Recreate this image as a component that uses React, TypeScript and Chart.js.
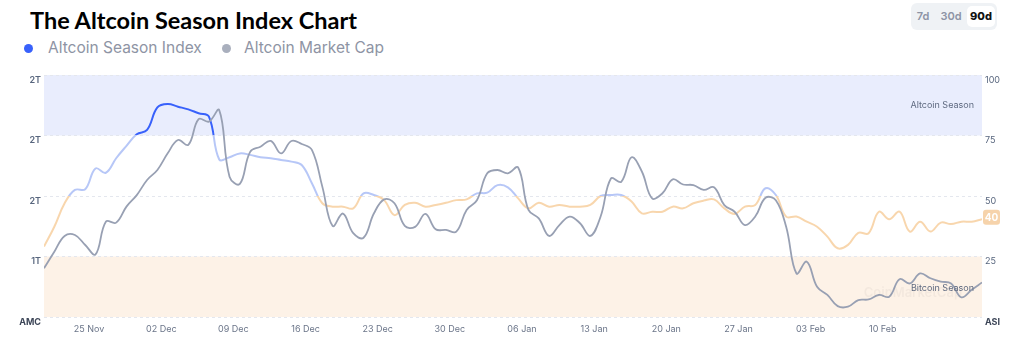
import React, { useEffect, useRef } from "react";
import { Chart, registerables } from "chart.js";

Chart.register(...registerables);

// ---- data ----
// daily snapshots starting 20 Nov (15:00), 92 days
const SNAPSHOT_DAY_OFFSET = 0.625; // fraction of day for the first snapshot (day 0 = 20 Nov 00:00)

const altcoinSeasonIndex = [
  29.1, 37.3, 47, 52.5, 52.8, 61.4, 59.6, 65.6, 70.7, 75.5,
  77.3, 86.6, 88, 86.9, 85.8, 84.2, 82.8, 65.1, 66, 67.6,
  67, 66, 65.6, 64.9, 64.2, 62.8, 55.2, 47, 45.6, 45.6,
  44.9, 51.1, 50.4, 48.3, 42.1, 46.3, 47.2, 45.6, 46.3, 47.2,
  48.3, 48.6, 51.1, 51.4, 54.5, 53.6, 49, 44.9, 47.2, 45.6,
  46.3, 45.6, 45.6, 46.3, 50, 50.4, 50.4, 47.7, 42.8, 43.5,
  43.5, 45.6, 44.9, 47, 48.1, 48.6, 44.9, 42.6, 45.6, 46.3,
  53.2, 50.4, 41.5, 41.5, 39.4, 37.3, 33.2, 28.4, 29.8, 34.8,
  34.6, 43.5, 40.4, 43.5, 35.3, 39.4, 35.3, 39, 38.4, 39.4,
  39.4, 40.4,
];

// Altcoin market cap, trillions USD
const altcoinMarketCap = [
  1.361, 1.416, 1.468, 1.471, 1.438, 1.407, 1.515, 1.512, 1.565, 1.603,
  1.653, 1.686, 1.741, 1.785, 1.769, 1.854, 1.846, 1.884, 1.664, 1.64,
  1.746, 1.763, 1.782, 1.741, 1.782, 1.772, 1.752, 1.631, 1.501, 1.542,
  1.477, 1.462, 1.542, 1.589, 1.576, 1.501, 1.498, 1.541, 1.49, 1.488,
  1.482, 1.554, 1.586, 1.675, 1.686, 1.675, 1.694, 1.554, 1.526, 1.468,
  1.504, 1.532, 1.51, 1.468, 1.532, 1.658, 1.647, 1.728, 1.681, 1.592,
  1.609, 1.655, 1.638, 1.636, 1.62, 1.629, 1.57, 1.548, 1.504, 1.532,
  1.594, 1.586, 1.498, 1.344, 1.383, 1.3, 1.273, 1.236, 1.234, 1.256,
  1.258, 1.273, 1.267, 1.325, 1.311, 1.344, 1.328, 1.317, 1.311, 1.265,
  1.29, 1.314,
];

const xTickDays = [5, 12, 19, 26, 33, 40, 47, 54, 61, 68, 75, 82];
const xTickLabels = [
  "25 Nov", "02 Dec", "09 Dec", "16 Dec", "23 Dec", "30 Dec",
  "06 Jan", "13 Jan", "20 Jan", "27 Jan", "03 Feb", "10 Feb",
];

const rightTickValues = [0, 25, 50, 75, 100];
const rightTickLabels = ["ASI", "25", "50", "75", "100"];
const leftTickValues = [1.2, 1.4, 1.6, 1.8, 2.0];
const leftTickLabels = ["AMC", "1T", "2T", "2T", "2T"];

const seriesNames = ["Altcoin Season Index", "Altcoin Market Cap"];
const bandLabels = ["Altcoin Season", "Bitcoin Season"];

// ---- styles ----
const FONT = "Inter, 'Noto Sans', sans-serif";
const BLUE = "#3861fb";
const LIGHT_BLUE = "#b7c7f7";
const ORANGE = "#f8d6ad";
const GRAY_LINE = "#98a0b3";
const ALT_BAND = "#e9edfd";
const BTC_BAND = "#fdf2e7";

const bandsPlugin = {
  id: "bands",
  beforeDraw(chart: any) {
    const { ctx, chartArea, scales } = chart;
    const y = scales.y;
    ctx.save();
    ctx.fillStyle = ALT_BAND;
    ctx.fillRect(chartArea.left, y.getPixelForValue(100), chartArea.right - chartArea.left, y.getPixelForValue(75) - y.getPixelForValue(100));
    ctx.fillStyle = BTC_BAND;
    ctx.fillRect(chartArea.left, y.getPixelForValue(25), chartArea.right - chartArea.left, y.getPixelForValue(0) - y.getPixelForValue(25));
    ctx.restore();
  },
  afterDatasetsDraw(chart: any) {
    const { ctx, chartArea, scales } = chart;
    const y = scales.y;
    ctx.save();
    // watermark
    ctx.font = `600 13px ${FONT}`;
    ctx.fillStyle = "rgba(120,120,120,0.07)";
    ctx.textAlign = "right";
    ctx.textBaseline = "middle";
    ctx.fillText("CoinMarketCap", chartArea.right - 20, (y.getPixelForValue(25) + y.getPixelForValue(0)) / 2 + 6);
    ctx.font = `9px ${FONT}`;
    ctx.fillStyle = "#5f6a80";
    ctx.fillText(bandLabels[0], chartArea.right - 8, (y.getPixelForValue(100) + y.getPixelForValue(75)) / 2);
    ctx.fillText(bandLabels[1], chartArea.right - 8, (y.getPixelForValue(25) + y.getPixelForValue(0)) / 2 + 2);
    ctx.restore();
  },
  afterDraw(chart: any) {
    const { ctx, chartArea, scales } = chart;
    const y = scales.y;
    const last = altcoinSeasonIndex[altcoinSeasonIndex.length - 1];
    const cy = y.getPixelForValue(last) - 2;
    const x0 = chartArea.right + 1;
    const w = 17, h = 15, r = 3;
    ctx.save();
    ctx.fillStyle = "#f6d3ab";
    ctx.beginPath();
    ctx.moveTo(x0 + r, cy - h / 2);
    ctx.lineTo(x0 + w - r, cy - h / 2);
    ctx.quadraticCurveTo(x0 + w, cy - h / 2, x0 + w, cy - h / 2 + r);
    ctx.lineTo(x0 + w, cy + h / 2 - r);
    ctx.quadraticCurveTo(x0 + w, cy + h / 2, x0 + w - r, cy + h / 2);
    ctx.lineTo(x0 + r, cy + h / 2);
    ctx.quadraticCurveTo(x0, cy + h / 2, x0, cy + h / 2 - r);
    ctx.lineTo(x0, cy - h / 2 + r);
    ctx.quadraticCurveTo(x0, cy - h / 2, x0 + r, cy - h / 2);
    ctx.fill();
    ctx.fillStyle = "#ffffff";
    ctx.font = `700 10px ${FONT}`;
    ctx.textAlign = "center";
    ctx.textBaseline = "middle";
    ctx.fillText(String(Math.round(last)), x0 + w / 2, cy + 0.5);
    ctx.restore();
  },
};

function asiColor(ctx: any) {
  const chart = ctx.chart;
  const { chartArea, scales } = chart;
  if (!chartArea || !scales.y) return ORANGE;
  const y0 = scales.y.getPixelForValue(0);
  const y1 = scales.y.getPixelForValue(100);
  const g = chart.ctx.createLinearGradient(0, y0, 0, y1);
  g.addColorStop(0, ORANGE);
  g.addColorStop(0.5, ORANGE);
  g.addColorStop(0.5, LIGHT_BLUE);
  g.addColorStop(0.75, LIGHT_BLUE);
  g.addColorStop(0.75, BLUE);
  g.addColorStop(1, BLUE);
  return g;
}

export default function App() {
  const canvasRef = useRef<HTMLCanvasElement>(null);

  useEffect(() => {
    const asiData = altcoinSeasonIndex.map((v, i) => ({ x: i + SNAPSHOT_DAY_OFFSET, y: v }));
    const mcData = altcoinMarketCap.map((v, i) => ({ x: i + SNAPSHOT_DAY_OFFSET, y: v }));
    const chart = new Chart(canvasRef.current!, {
      type: "line",
      data: {
        datasets: [
          {
            label: seriesNames[1],
            data: mcData,
            yAxisID: "yL",
            borderColor: GRAY_LINE,
            borderWidth: 1.8,
            pointRadius: 0,
            tension: 0.4,
            order: 0,
          },
          {
            label: seriesNames[0],
            data: asiData,
            yAxisID: "y",
            borderColor: asiColor,
            borderWidth: 2,
            pointRadius: 0,
            tension: 0.4,
            order: 1,
          },
        ],
      },
      options: {
        animation: false,
        responsive: true,
        maintainAspectRatio: false,
        layout: { padding: { top: 15, left: 0, right: 0, bottom: 0 } },
        plugins: { legend: { display: false }, tooltip: { enabled: false } },
        scales: {
          x: {
            type: "linear",
            min: SNAPSHOT_DAY_OFFSET,
            max: SNAPSHOT_DAY_OFFSET + altcoinSeasonIndex.length - 1,
            afterBuildTicks: (s: any) => {
              s.ticks = xTickDays.map((v) => ({ value: v }));
            },
            afterFit: (s: any) => {
              s.height = 35;
            },
            grid: { display: false, drawTicks: false },
            border: { display: false },
            ticks: {
              autoSkip: false,
              maxRotation: 0,
              padding: 7,
              color: "#6b7589",
              font: { family: FONT, size: 9 },
              callback: (_v: any, i: number) => xTickLabels[i],
            },
          },
          y: {
            position: "right",
            min: 0,
            max: 100,
            afterBuildTicks: (s: any) => {
              s.ticks = rightTickValues.map((v) => ({ value: v }));
            },
            afterFit: (s: any) => {
              s.width = 42;
            },
            grid: { color: "#e4e7ee", drawTicks: false },
            border: { display: false, dash: [3, 3] },
            ticks: {
              padding: 3,
              labelOffset: 5,
              color: (c: any) => (c.index === 0 ? "#3d4658" : "#58667e"),
              font: (c: any) => ({ family: FONT, size: 9, weight: c.index === 0 ? "bold" : "normal" }),
              callback: (_v: any, i: number) => rightTickLabels[i],
            },
          },
          yL: {
            position: "left",
            min: 1.2,
            max: 2.0,
            afterBuildTicks: (s: any) => {
              s.ticks = leftTickValues.map((v) => ({ value: v }));
            },
            afterFit: (s: any) => {
              s.width = 44;
            },
            grid: { display: false, drawTicks: false },
            border: { display: false },
            ticks: {
              padding: 3,
              labelOffset: 5,
              color: (c: any) => (c.index === 0 ? "#3d4658" : "#58667e"),
              font: (c: any) => ({ family: FONT, size: 9, weight: c.index === 0 ? "bold" : "600" }),
              callback: (_v: any, i: number) => leftTickLabels[i],
            },
          },
        },
      },
      plugins: [bandsPlugin],
    } as any);
    return () => chart.destroy();
  }, []);

  const btn = (label: string, active: boolean, cx: number) => (
    <div
      key={label}
      style={{
        position: "absolute",
        left: cx - 14,
        top: 6,
        width: 28,
        height: 21,
        lineHeight: "21px",
        textAlign: "center",
        borderRadius: 5,
        background: active ? "#ffffff" : "transparent",
        color: active ? "#111" : "#8d94a5",
        fontWeight: active ? 800 : 600,
        fontSize: 11,
        fontFamily: FONT,
      }}
    >
      {label}
    </div>
  );

  return (
    <div
      style={{
        position: "absolute",
        left: 0,
        top: 0,
        width: 1024,
        height: 352,
        background: "#fff",
        overflow: "hidden",
      }}
    >
      <div
        style={{
          position: "absolute",
          left: 30,
          top: 9,
          fontFamily: "Lato, 'Open Sans', sans-serif",
          fontWeight: 700,
          fontSize: 23.5,
          lineHeight: "23.5px",
          color: "#000",
          whiteSpace: "nowrap",
        }}
      >
        The Altcoin Season Index Chart
      </div>
      <div style={{ position: "absolute", left: 24, top: 44, width: 9, height: 9, borderRadius: "50%", background: BLUE }} />
      <div
        style={{ position: "absolute", left: 48, top: 38, fontFamily: FONT, fontSize: 15.5, lineHeight: "20px", color: "#8e94a4", whiteSpace: "nowrap" }}
      >
        {seriesNames[0]}
      </div>
      <div style={{ position: "absolute", left: 222, top: 44, width: 9, height: 9, borderRadius: "50%", background: "#a9afbd" }} />
      <div
        style={{ position: "absolute", left: 244, top: 38, fontFamily: FONT, fontSize: 15.5, lineHeight: "20px", color: "#8e94a4", whiteSpace: "nowrap" }}
      >
        {seriesNames[1]}
      </div>
      <div
        style={{
          position: "absolute",
          left: 911,
          top: 3,
          width: 86,
          height: 27,
          borderRadius: 6,
          background: "#eff2f5",
        }}
      />
      {btn("7d", false, 923)}
      {btn("30d", false, 951)}
      {btn("90d", true, 981)}
      <div style={{ position: "absolute", left: 0, top: 60, width: 1024, height: 292 }}>
        <canvas ref={canvasRef} />
      </div>
    </div>
  );
}
